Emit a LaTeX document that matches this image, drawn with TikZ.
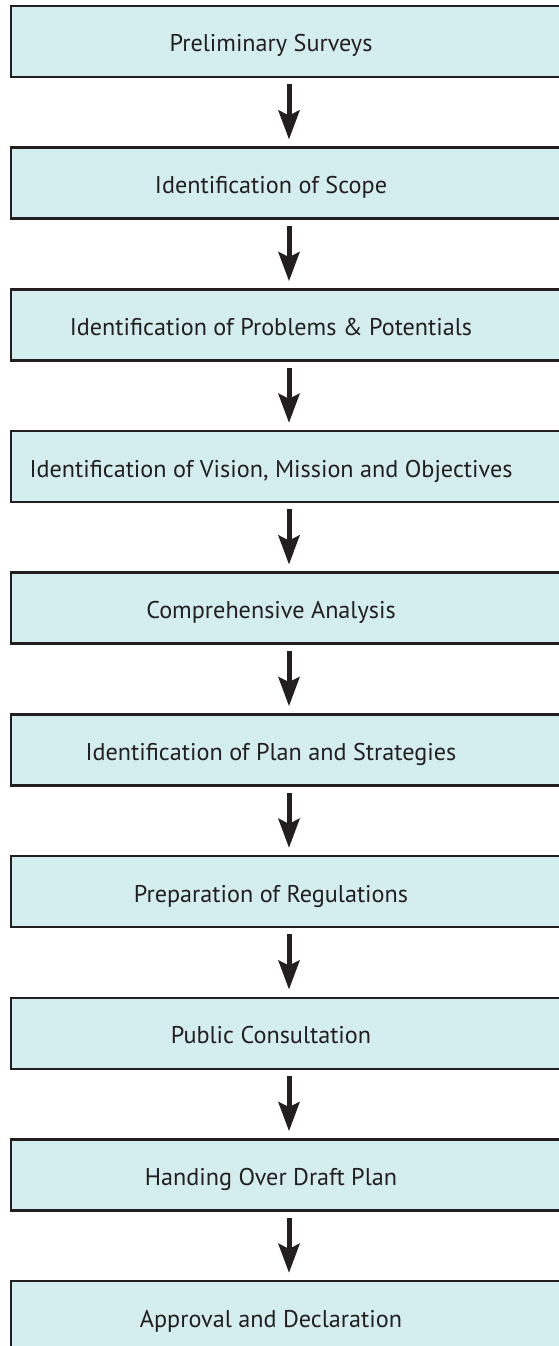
\documentclass[tikz,border=0pt]{standalone}
\usepackage{fontspec}
\setmainfont{PT Sans}
\usetikzlibrary{arrows.meta}
\definecolor{boxfill}{RGB}{212,237,238}
\definecolor{ink}{RGB}{35,31,32}
\tikzset{
  stepbox/.style={draw=ink, line width=2.4pt, fill=boxfill, minimum width=569pt, minimum height=71pt, inner sep=0pt},
  lbl/.style={anchor=base, text=ink, font=\fontsize{24.2}{28}\selectfont, inner sep=0pt},
  flow/.style={draw=ink, line width=5pt, -{Stealth[length=29pt,width=21pt,inset=5pt]}, shorten <=6pt, shorten >=7pt}
}
\begin{document}
\begin{tikzpicture}[x=1pt,y=1pt]
\useasboundingbox (0,0) rectangle (559,-1346);
\clip (0,0) rectangle (559,-1346);
\foreach \i/\t in {0/Preliminary Surveys,1/Identification of Scope,2/Identification of Problems \& Potentials,3/{Identification of Vision, Mission and Objectives},4/Comprehensive Analysis,5/Identification of Plan and Strategies,6/Preparation of Regulations,7/Public Consultation,8/Handing Over Draft Plan,9/Approval and Declaration}{
  \node[stepbox] (b\i) at (295.5,{-6-35.5-141.67*\i}) {};
  \node[lbl] (t\i) at (271,{-52-141.67*\i}) {\t};
}
\foreach \i [evaluate=\i as \j using int(\i+1)] in {0,...,8}{
  \draw[flow] ([xshift=-6.5pt]b\i.south) -- ([xshift=-6.5pt]b\j.north);
}
\end{tikzpicture}
\end{document}
